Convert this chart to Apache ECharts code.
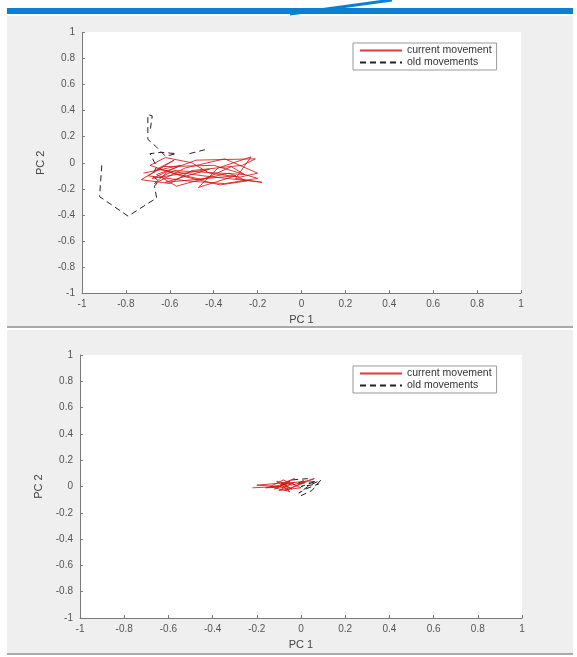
<!DOCTYPE html>
<html><head><meta charset="utf-8">
<script src="https://cdn.jsdelivr.net/npm/echarts@6/dist/echarts.min.js"></script>
<style>html,body{margin:0;padding:0;background:#fff}#c{width:577px;height:657px}</style>
</head><body><div id="c"></div>
<script>
// ---- data ----
var axisTicks = [-1,-0.8,-0.6,-0.4,-0.2,0,0.2,0.4,0.6,0.8,1];
var seriesNames = ['current movement','old movements'];
// Top panel, current movement (PC1, PC2)
var topCurX = [-0.72,-0.55,-0.68,-0.42,-0.62,-0.30,-0.47,-0.38,-0.23,-0.30,-0.18,-0.45,-0.66,-0.58,-0.70,-0.52,-0.35,-0.20,-0.40,-0.63,-0.73,-0.60,-0.50,-0.27,-0.21,-0.48,-0.66,-0.57,-0.44,-0.33,-0.25,-0.37,-0.55,-0.69,-0.62,-0.50,-0.42,-0.28,-0.20,-0.35,-0.53,-0.67,-0.61,-0.45,-0.32,-0.26,-0.58,-0.64];
var topCurY = [-0.08,-0.02,-0.12,-0.05,-0.15,-0.10,-0.19,-0.04,0.045,-0.12,-0.15,-0.10,-0.05,0.02,-0.10,-0.14,-0.16,-0.12,-0.02,-0.03,-0.13,-0.16,-0.06,-0.02,0.03,0.02,-0.09,-0.18,-0.12,-0.08,-0.14,-0.17,-0.10,-0.02,0.04,0.00,-0.08,-0.11,-0.08,0.03,-0.04,-0.16,-0.07,-0.13,-0.03,-0.09,-0.06,-0.11];
// Top panel, old movements (two dashed strokes)
var topOldX = [-0.91,-0.92,-0.79,-0.66,-0.67,-0.65,-0.68,-0.66,-0.69,-0.64,-0.57,-0.62,-0.66,-0.70,-0.70,-0.68,-0.69];
var topOldY = [-0.02,-0.26,-0.41,-0.27,-0.18,-0.14,-0.10,-0.03,0.07,0.08,0.07,0.05,0.12,0.18,0.37,0.36,0.24];
var topOld2X = [-0.51,-0.44];
var topOld2Y = [0.07,0.10];
// Bottom panel, current movement
var botCurX = [-0.22,-0.10,-0.20,-0.06,-0.12,-0.03,-0.09,0.02,-0.07,0.06,-0.04,-0.11,-0.05,-0.14,-0.08,0.00,-0.10,-0.03,-0.16,-0.06,-0.09,-0.04,-0.08,-0.05,-0.10,-0.06,-0.07];
var botCurY = [-0.01,0.00,0.01,0.03,-0.02,0.06,0.02,0.04,-0.03,0.06,0.01,0.04,-0.04,0.00,0.05,-0.01,-0.03,0.03,-0.01,0.00,0.03,-0.02,0.01,0.04,0.00,-0.02,0.02];
// Bottom panel, old movements
var botOldX = [-0.04,0.03,-0.02,0.07,0.00,0.08,0.02,-0.01,0.04,0.09,0.05,0.00];
var botOldY = [0.05,0.06,0.02,0.04,0.00,0.02,-0.02,-0.05,0.01,0.05,-0.03,-0.07];

function pairs(xs, ys){ return xs.map(function(x,i){ return [x, ys[i]]; }); }

var RED = 'rgba(212,24,24,0.85)';
var BLACK = '#222';
var FONT = 'Liberation Sans, Arial, sans-serif';

function xAx(gi){
  return {type:'value', gridIndex:gi, min:-1, max:1, interval:0.2,
    name:'PC 1', nameLocation:'middle', nameGap:21,
    nameTextStyle:{color:'#444', fontSize:11, fontFamily:FONT},
    axisLine:{show:true, onZero:false, lineStyle:{color:'#7a7a7a', width:1}},
    axisTick:{show:true, inside:true, length:3, lineStyle:{color:'#7a7a7a'}},
    axisLabel:{color:'#555', fontSize:10, fontFamily:FONT, margin:6,
      formatter:function(v){return String(Math.round(v*10)/10);}},
    splitLine:{show:false}};
}
function yAx(gi){
  return {type:'value', gridIndex:gi, min:-1, max:1, interval:0.2,
    name:'PC 2', nameLocation:'middle', nameGap:36, nameRotate:90,
    nameTextStyle:{color:'#444', fontSize:11, fontFamily:FONT},
    axisLine:{show:true, onZero:false, lineStyle:{color:'#7a7a7a', width:1}},
    axisTick:{show:true, inside:true, length:3, lineStyle:{color:'#7a7a7a'}},
    axisLabel:{color:'#555', fontSize:10, fontFamily:FONT, margin:7,
      formatter:function(v){return String(Math.round(v*10)/10);}},
    splitLine:{show:false}};
}
function lineSeries(name, data, gi, color, dashed){
  return {name:name, type:'line', xAxisIndex:gi, yAxisIndex:gi, data:data,
    symbol:'none', showSymbol:false, smooth:false, animation:false,
    lineStyle:{color:color, width:1, type: dashed ? [6,4] : 'solid'},
    itemStyle:{color:color}};
}
function legend(top){
  return {data:seriesNames, orient:'vertical', left:353, top:top,
    backgroundColor:'#fff', borderColor:'#999', borderWidth:1, borderRadius:0,
    padding:[2,5,2,6], itemGap:1, itemWidth:42, itemHeight:10,
    itemStyle:{opacity:0},
    textStyle:{fontSize:10.5, color:'#333', fontFamily:FONT}};
}

var chart = echarts.init(document.getElementById('c'), null, {renderer:'canvas'});
chart.setOption({
  backgroundColor:'#fff',
  animation:false,
  graphic:[
    {type:'rect', z:-10, silent:true, shape:{x:7,y:16,width:566,height:310}, style:{fill:'#efeff0'}},
    {type:'rect', z:-10, silent:true, shape:{x:7,y:330,width:566,height:323}, style:{fill:'#efeff0'}},
    {type:'rect', z:-9, silent:true, shape:{x:82,y:32,width:439,height:261}, style:{fill:'#fff'}},
    {type:'rect', z:-9, silent:true, shape:{x:80,y:355,width:442,height:263}, style:{fill:'#fff'}},
    {type:'rect', z:-8, silent:true, shape:{x:7,y:8,width:566,height:6}, style:{fill:'#0a7fd6'}},
    {type:'line', z:-8, silent:true, shape:{x1:290,y1:14,x2:392,y2:0}, style:{stroke:'#0a7fd6', lineWidth:3}},
    {type:'line', z:-8, silent:true, shape:{x1:7,y1:327,x2:573,y2:327}, style:{stroke:'#555', lineWidth:1}},
    {type:'line', z:-8, silent:true, shape:{x1:7,y1:654,x2:573,y2:654}, style:{stroke:'#555', lineWidth:1}}
  ],
  legend:[legend(43), legend(366)],
  grid:[
    {left:82, top:32.5, width:439, height:260.5, containLabel:false},
    {left:80, top:355, width:442, height:263, containLabel:false}
  ],
  xAxis:[xAx(0), xAx(1)],
  yAxis:[yAx(0), yAx(1)],
  series:[
    lineSeries(seriesNames[1], pairs(topOldX, topOldY), 0, BLACK, true),
    lineSeries(seriesNames[1], pairs(topOld2X, topOld2Y), 0, BLACK, true),
    lineSeries(seriesNames[0], pairs(topCurX, topCurY), 0, RED, false),
    lineSeries(seriesNames[1], pairs(botOldX, botOldY), 1, BLACK, true),
    lineSeries(seriesNames[0], pairs(botCurX, botCurY), 1, RED, false)
  ]
});
</script></body></html>
